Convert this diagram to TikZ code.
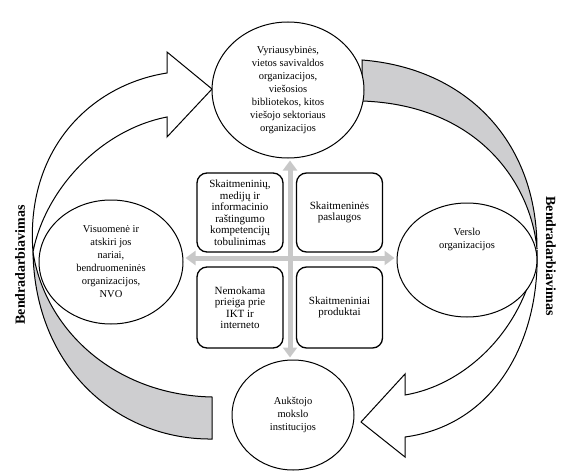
\documentclass[tikz,border=0pt]{standalone}
\usepackage{fontspec}
\setmainfont{Liberation Serif}
\usetikzlibrary{shapes.geometric,arrows.meta}
\definecolor{crossgray}{RGB}{200,200,200}
\definecolor{bandgray}{RGB}{206,206,208}
\begin{document}
\begin{tikzpicture}[
  x=1pt, y=-1pt,
  org/.style={draw, ellipse, line width=1pt, fill=white, align=center, inner sep=0pt,
    font=\fontsize{10.5}{13}\selectfont},
  area/.style={draw, rounded corners=10pt, line width=1.3pt, fill=white, align=center,
    minimum width=86pt, inner sep=0pt, font=\fontsize{11}{11.5}\selectfont},
  flow/.style={draw, line width=1pt, fill=white},
  band/.style={draw, line width=1pt, fill=bandgray},
  cross/.style={crossgray, line width=5pt,
    {Triangle[width=14pt,length=10pt]}-{Triangle[width=14pt,length=10pt]},
    shorten <=2pt, shorten >=2pt},
  side/.style={font=\fontsize{14}{16}\selectfont\bfseries}
]
  \useasboundingbox (0,0) rectangle (567,476);

  \draw[band] (362,60) .. controls (465,68) and (537,140) .. (537,249)
    .. controls (531,185) and (480,105) .. (362,101) -- cycle;
  \draw[flow] (537,250) .. controls (540,340) and (495,425) .. (405,437)
    -- (405,457) -- (361,422) -- (405,374) -- (405,395)
    .. controls (465,385) and (525,330) .. (537,250) -- cycle;
  \draw[band] (212,439) .. controls (120,440) and (35,370) .. (33,252)
    .. controls (45,330) and (115,395) .. (212,397) -- cycle;
  \draw[flow] (33,252) .. controls (25,150) and (90,85) .. (167,73)
    -- (167,52) -- (212,89) -- (167,137) -- (167,117)
    .. controls (100,130) and (45,190) .. (33,252) -- cycle;

  \node[org, minimum width=152pt, minimum height=136pt] (gov) at (288,90)
    {Vyriausybinės,\\vietos savivaldos\\organizacijos,\\viešosios\\bibliotekos, kitos\\viešojo sektoriaus\\organizacijos};
  \node[org, minimum width=144pt, minimum height=124pt] (soc) at (111,262)
    {Visuomenė ir\\atskiri jos\\nariai,\\bendruomeninės\\organizacijos,\\NVO};
  \node[org, minimum width=140pt, minimum height=114pt] (biz) at (467,260) {};
  \node[align=center, font=\fontsize{10.5}{13}\selectfont] (biztext) at (467,239)
    {Verslo\\organizacijos};
  \node[org, minimum width=122pt, minimum height=110pt] (uni) at (293,415)
    {Aukštojo\\mokslo\\institucijos};

  \coordinate (hub) at (290,258);
  \draw[cross] (hub -| soc.east) -- (hub -| biz.west);
  \draw[cross] (hub |- gov.south) -- (hub |- uni.north);

  \node[area, minimum height=79pt] (skills) at (240,212.5)
    {Skaitmeninių,\\medijų ir\\informacinio\\raštingumo\\kompetencijų\\tobulinimas};
  \node[area, minimum height=79pt] (services) at (339.5,212.5)
    {Skaitmeninės\\paslaugos};
  \node[area, minimum height=81pt] (access) at (240,307.5)
    {Nemokama\\prieiga prie\\IKT ir\\interneto};
  \node[area, minimum height=81pt] (products) at (339.5,307.5)
    {Skaitmeniniai\\produktai};

  \node[side, rotate=90] (collabL) at (20,265) {Bendradarbiavimas};
  \node[side, rotate=-90] (collabR) at (551,256) {Bendradarbiavimas};
\end{tikzpicture}
\end{document}
